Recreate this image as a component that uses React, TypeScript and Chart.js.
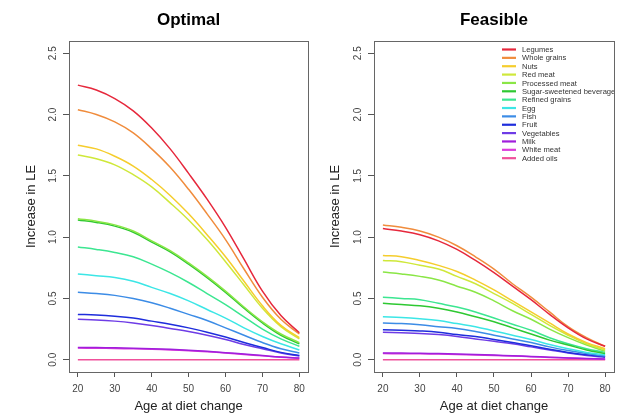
import React, { useEffect, useRef } from 'react';
import { Chart, registerables } from 'chart.js';

Chart.register(...registerables);

const FONT = '"Liberation Sans", Arial, Helvetica, sans-serif';

const ages = [20, 25, 30, 35, 40, 45, 50, 55, 60, 65, 70, 75, 80];
const xTicks = [20, 30, 40, 50, 60, 70, 80];
const yTicks = [0, 0.5, 1, 1.5, 2, 2.5];

const foodGroups = [
  'Legumes', 'Whole grains', 'Nuts', 'Red meat', 'Processed meat',
  'Sugar-sweetened beverages', 'Refined grains', 'Egg', 'Fish', 'Fruit',
  'Vegetables', 'Milk', 'White meat', 'Added oils',
];
const lineColors = [
  '#e6283c', '#f08c3c', '#f5cd2d', '#cfe83a', '#8ae646',
  '#2ec832', '#3ce691', '#3ce6e6', '#3c8ce6', '#1e2ddc',
  '#6e3ce6', '#a01edc', '#dc3cdc', '#f0509b',
];

// Optimal diet
const optLegumes = [2.24, 2.2, 2.13, 2.03, 1.89, 1.72, 1.52, 1.31, 1.08, 0.82, 0.56, 0.36, 0.22];
const optWholeGrains = [2.04, 2.0, 1.94, 1.85, 1.72, 1.57, 1.39, 1.19, 0.98, 0.74, 0.51, 0.33, 0.21];
const optNuts = [1.75, 1.72, 1.66, 1.58, 1.47, 1.34, 1.19, 1.02, 0.84, 0.64, 0.44, 0.28, 0.18];
const optRedMeat = [1.67, 1.64, 1.59, 1.51, 1.41, 1.28, 1.14, 0.98, 0.8, 0.61, 0.42, 0.27, 0.17];
const optProcessedMeat = [1.15, 1.13, 1.1, 1.05, 0.97, 0.89, 0.79, 0.68, 0.56, 0.43, 0.31, 0.21, 0.14];
const optSSB = [1.14, 1.12, 1.09, 1.04, 0.96, 0.88, 0.78, 0.67, 0.55, 0.42, 0.3, 0.2, 0.13];
const optRefinedGrains = [0.92, 0.9, 0.875, 0.84, 0.78, 0.71, 0.63, 0.54, 0.45, 0.35, 0.25, 0.17, 0.11];
const optEgg = [0.7, 0.685, 0.67, 0.64, 0.59, 0.54, 0.48, 0.41, 0.34, 0.26, 0.19, 0.13, 0.08];
const optFish = [0.55, 0.54, 0.525, 0.5, 0.465, 0.42, 0.37, 0.32, 0.26, 0.2, 0.14, 0.09, 0.055];
const optFruit = [0.37, 0.365, 0.355, 0.34, 0.315, 0.29, 0.26, 0.225, 0.185, 0.14, 0.1, 0.06, 0.035];
const optVegetables = [0.33, 0.325, 0.315, 0.3, 0.28, 0.255, 0.23, 0.2, 0.165, 0.125, 0.09, 0.055, 0.03];
const optMilk = [0.1, 0.099, 0.097, 0.094, 0.09, 0.085, 0.078, 0.069, 0.058, 0.046, 0.034, 0.022, 0.014];
const optWhiteMeat = [0.095, 0.094, 0.092, 0.089, 0.085, 0.08, 0.073, 0.065, 0.055, 0.043, 0.032, 0.021, 0.012];
const optAddedOils = [0.0, 0.0, 0.0, 0.0, 0.0, 0.0, 0.0, 0.0, 0.0, 0.0, 0.0, 0.0, 0.0];

// Feasible diet
const feaLegumes = [1.07, 1.05, 1.02, 0.97, 0.9, 0.81, 0.71, 0.6, 0.49, 0.37, 0.26, 0.17, 0.11];
const feaWholeGrains = [1.1, 1.08, 1.05, 1.0, 0.93, 0.84, 0.74, 0.62, 0.51, 0.39, 0.27, 0.18, 0.11];
const feaNuts = [0.85, 0.84, 0.81, 0.77, 0.72, 0.65, 0.57, 0.48, 0.39, 0.3, 0.21, 0.14, 0.09];
const feaRedMeat = [0.81, 0.8, 0.77, 0.74, 0.68, 0.62, 0.54, 0.46, 0.37, 0.28, 0.2, 0.13, 0.08];
const feaProcessedMeat = [0.715, 0.7, 0.68, 0.65, 0.6, 0.55, 0.48, 0.4, 0.33, 0.25, 0.18, 0.12, 0.07];
const feaSSB = [0.46, 0.45, 0.44, 0.42, 0.39, 0.35, 0.31, 0.26, 0.21, 0.16, 0.12, 0.08, 0.05];
const feaRefinedGrains = [0.51, 0.5, 0.49, 0.46, 0.43, 0.39, 0.34, 0.29, 0.24, 0.18, 0.13, 0.09, 0.06];
const feaEgg = [0.35, 0.345, 0.335, 0.32, 0.295, 0.27, 0.235, 0.2, 0.165, 0.125, 0.09, 0.06, 0.04];
const feaFish = [0.3, 0.295, 0.285, 0.27, 0.255, 0.23, 0.2, 0.17, 0.14, 0.105, 0.075, 0.05, 0.03];
const feaFruit = [0.245, 0.24, 0.235, 0.225, 0.205, 0.19, 0.165, 0.14, 0.115, 0.085, 0.06, 0.04, 0.025];
const feaVegetables = [0.225, 0.22, 0.215, 0.205, 0.19, 0.17, 0.15, 0.13, 0.105, 0.08, 0.055, 0.035, 0.02];
const feaMilk = [0.055, 0.054, 0.052, 0.05, 0.047, 0.043, 0.038, 0.033, 0.027, 0.021, 0.015, 0.01, 0.006];
const feaWhiteMeat = [0.05, 0.049, 0.048, 0.046, 0.043, 0.039, 0.035, 0.03, 0.025, 0.019, 0.014, 0.009, 0.005];
const feaAddedOils = [0.0, 0.0, 0.0, 0.0, 0.0, 0.0, 0.0, 0.0, 0.0, 0.0, 0.0, 0.0, 0.0];

const optimalSeries = [
  optLegumes, optWholeGrains, optNuts, optRedMeat, optProcessedMeat, optSSB, optRefinedGrains,
  optEgg, optFish, optFruit, optVegetables, optMilk, optWhiteMeat, optAddedOils,
];
const feasibleSeries = [
  feaLegumes, feaWholeGrains, feaNuts, feaRedMeat, feaProcessedMeat, feaSSB, feaRefinedGrains,
  feaEgg, feaFish, feaFruit, feaVegetables, feaMilk, feaWhiteMeat, feaAddedOils,
];

type PanelProps = {
  title: string;
  series: number[][];
  width: number;
  yAxisWidth: number;
  yTitlePad: number;
  rightPad: number;
  showLegend: boolean;
};

function Panel(props: PanelProps) {
  const ref = useRef<HTMLCanvasElement | null>(null);
  useEffect(() => {
    const canvas = ref.current;
    if (!canvas) return;

    const boxPlugin = {
      id: 'box',
      afterDraw(chart: any) {
        const { ctx, chartArea: a } = chart;
        ctx.save();
        ctx.strokeStyle = '#666';
        ctx.lineWidth = 1;
        ctx.strokeRect(Math.round(a.left) + 0.5, Math.round(a.top) + 0.5, Math.round(a.right - a.left), Math.round(a.bottom - a.top));
        ctx.restore();
      },
    };

    const yLabelPlugin = {
      id: 'yLabels',
      afterDraw(chart: any) {
        const { ctx, chartArea: a } = chart;
        const ys = chart.scales.y;
        ctx.save();
        ctx.fillStyle = '#444';
        ctx.font = `10px ${FONT}`;
        ctx.textAlign = 'center';
        ctx.textBaseline = 'middle';
        ys.ticks.forEach((t: any) => {
          const py = ys.getPixelForValue(t.value);
          ctx.save();
          ctx.translate(a.left - 16, py);
          ctx.rotate(-Math.PI / 2);
          ctx.fillText(Number(t.value).toFixed(1), 0, 0);
          ctx.restore();
        });
        ctx.restore();
      },
    };

    const titlePlugin = {
      id: 'panelTitle',
      afterDraw(chart: any) {
        const { ctx, chartArea: a } = chart;
        ctx.save();
        ctx.fillStyle = '#000';
        ctx.font = `bold 17px ${FONT}`;
        ctx.textAlign = 'center';
        ctx.textBaseline = 'alphabetic';
        ctx.fillText(props.title, (a.left + a.right) / 2, 25);
        ctx.restore();
      },
    };

    const legendPlugin = {
      id: 'insideLegend',
      afterDraw(chart: any) {
        if (!props.showLegend) return;
        const { ctx, chartArea: a } = chart;
        ctx.save();
        ctx.beginPath();
        ctx.rect(a.left, a.top, a.right - a.left, a.bottom - a.top);
        ctx.clip();
        ctx.font = `7.6px ${FONT}`;
        ctx.textBaseline = 'middle';
        ctx.textAlign = 'left';
        chart.data.datasets.forEach((ds: any, i: number) => {
          const y = a.top + 8.5 + i * 8.36;
          ctx.strokeStyle = ds.borderColor;
          ctx.lineWidth = 2.2;
          ctx.beginPath();
          ctx.moveTo(a.left + 128, y);
          ctx.lineTo(a.left + 142, y);
          ctx.stroke();
          ctx.fillStyle = '#333';
          ctx.fillText(ds.label, a.left + 148, y + 0.5);
        });
        ctx.restore();
      },
    };

    const chart = new Chart(canvas, {
      type: 'line',
      data: {
        datasets: props.series.map((vals, i) => ({
          label: foodGroups[i],
          data: ages.map((a, j) => ({ x: a, y: vals[j] })),
          borderColor: lineColors[i],
          backgroundColor: lineColors[i],
          borderWidth: 1.5,
          pointRadius: 0,
          fill: false,
          tension: 0.4,
        })),
      },
      options: {
        responsive: false,
        animation: false,
        devicePixelRatio: 1,
        layout: { padding: { left: 0, top: 41, right: props.rightPad, bottom: 0 } },
        plugins: {
          legend: { display: false },
          tooltip: { enabled: false },
          title: { display: false },
        },
        scales: {
          x: {
            type: 'linear',
            min: 17.6,
            max: 82.4,
            afterBuildTicks: (s: any) => { s.ticks = xTicks.map((v) => ({ value: v })); },
            afterFit: (s: any) => { s.height = 42; },
            ticks: {
              color: '#444',
              font: { size: 10, family: FONT },
              padding: 6,
              maxRotation: 0,
              autoSkip: false,
              callback: (v: any) => String(v),
            },
            grid: { drawOnChartArea: false, drawTicks: true, tickLength: 5, color: '#555' },
            border: { display: true, color: '#666' },
            title: {
              display: true,
              text: 'Age at diet change',
              color: '#222',
              font: { size: 13, family: FONT },
              padding: { top: 0, bottom: 0 },
            },
          },
          y: {
            type: 'linear',
            min: -0.1,
            max: 2.6,
            afterBuildTicks: (s: any) => { s.ticks = yTicks.map((v) => ({ value: v })); },
            afterFit: (s: any) => { s.width = props.yAxisWidth; },
            ticks: { display: false },
            grid: { drawOnChartArea: false, drawTicks: true, tickLength: 6, color: '#555' },
            border: { display: true, color: '#666' },
            title: {
              display: true,
              text: 'Increase in LE',
              color: '#222',
              font: { size: 13, family: FONT },
              padding: { top: props.yTitlePad, bottom: 0 },
            },
          },
        },
      },
      plugins: [boxPlugin, yLabelPlugin, titlePlugin, legendPlugin],
    } as any);
    return () => chart.destroy();
  }, []);
  return <canvas ref={ref} width={props.width} height={414} style={{ display: 'block', width: props.width, height: 414 }} />;
}

export default function App() {
  return (
    <div style={{ position: 'absolute', left: 0, top: 0, width: 621, height: 414, background: '#fff', overflow: 'hidden' }}>
      <div style={{ position: 'absolute', left: 0, top: 0 }}>
        <Panel title="Optimal" series={optimalSeries} width={311} yAxisWidth={69} yTitlePad={24} rightPad={2} showLegend={false} />
      </div>
      <div style={{ position: 'absolute', left: 311, top: 0 }}>
        <Panel title="Feasible" series={feasibleSeries} width={310} yAxisWidth={63} yTitlePad={17} rightPad={7} showLegend={true} />
      </div>
    </div>
  );
}
